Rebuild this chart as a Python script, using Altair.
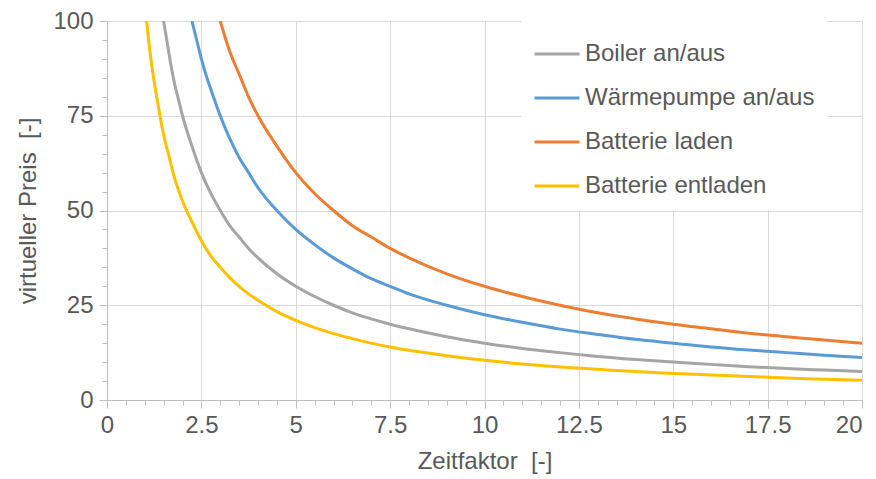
import altair as alt
import pandas as pd

# Series
boiler_x = [1.5, 1.6, 1.7, 1.8, 1.9, 2, 2.25, 2.5, 2.75, 3, 3.25, 3.5, 3.75, 4, 4.5, 5, 5.5, 6, 6.5, 7, 7.5, 8, 9, 10, 11, 12, 13, 14, 15, 16, 17, 18, 19, 20]
boiler_y = [100, 94, 88, 83, 79, 75, 67, 60, 54.5, 50, 46, 43, 40, 37.5, 33.3, 30, 27.3, 25, 23, 21.4, 20, 18.8, 16.7, 15, 13.6, 12.5, 11.5, 10.7, 10, 9.4, 8.8, 8.3, 7.9, 7.5]

wp_x = [2.25, 2.4, 2.5, 2.6, 2.75, 3, 3.25, 3.5, 3.75, 4, 4.5, 5, 5.5, 6, 6.5, 7, 7.5, 8, 9, 10, 11, 12, 13, 14, 15, 16, 17, 18, 19, 20]
wp_y = [100, 94, 90, 86.5, 82, 75, 69, 64, 60, 56, 50, 45, 41, 37.5, 34.6, 32, 30, 28, 25, 22.5, 20.5, 18.7, 17.3, 16, 15, 14, 13.2, 12.5, 11.8, 11.2]

laden_x = [3, 3.25, 3.5, 3.75, 4, 4.5, 5, 5.5, 6, 6.5, 7, 7.5, 8, 9, 10, 11, 12, 13, 14, 15, 16, 17, 18, 19, 20]
laden_y = [100, 92, 86, 80, 75, 67, 60, 54.5, 50, 46, 43, 40, 37.5, 33.3, 30, 27.3, 25, 23, 21.4, 20, 18.8, 17.6, 16.7, 15.8, 15]

entladen_x = [1.05, 1.15, 1.25, 1.35, 1.5, 1.65, 1.75, 2, 2.25, 2.5, 2.75, 3, 3.25, 3.5, 3.75, 4, 4.5, 5, 5.5, 6, 6.5, 7, 7.5, 8, 9, 10, 11, 12, 13, 14, 15, 16, 17, 18, 19, 20]
entladen_y = [100, 91, 84, 78, 70, 64, 60, 52.5, 47, 42, 38, 35, 32.3, 30, 28, 26.3, 23.3, 21, 19.1, 17.5, 16.2, 15, 14, 13.1, 11.7, 10.5, 9.5, 8.7, 8.1, 7.5, 7, 6.6, 6.2, 5.8, 5.5, 5.2]

series_names = ["Boiler an/aus", "Wärmepumpe an/aus", "Batterie laden", "Batterie entladen"]
series_colors = ["#a5a5a5", "#5b9bd5", "#ed7d31", "#ffc000"]

x_ticks = [0, 2.5, 5, 7.5, 10, 12.5, 15, 17.5, 20]
x_minor = [i * 0.5 for i in range(41)]
y_ticks = [0, 25, 50, 75, 100]
y_minor = [i * 5 for i in range(21)]

rows = []
for name, xs, ys in zip(series_names, [boiler_x, wp_x, laden_x, entladen_x],
                        [boiler_y, wp_y, laden_y, entladen_y]):
    for i, (a, b) in enumerate(zip(xs, ys)):
        rows.append({"Serie": name, "x": a, "y": b, "o": i})
df = pd.DataFrame(rows)

FONT = "Liberation Sans"
GREY = "#595959"
FS = 24

xscale = alt.Scale(domain=[0, 20], nice=False, zero=False)
yscale = alt.Scale(domain=[0, 100], nice=False)

minor = alt.Chart(df).mark_point(opacity=0).encode(
    x=alt.X("x:Q", scale=xscale, title=None,
            axis=alt.Axis(values=x_minor, labels=False, grid=False, domain=False, tickColor="#bfbfbf",
                          tickSize=5, orient="bottom", title=None)),
    y=alt.Y("y:Q", scale=yscale, title=None,
            axis=alt.Axis(values=y_minor, labels=False, grid=False, domain=False, tickColor="#bfbfbf",
                          tickSize=5, orient="left", title=None)),
)

lines = alt.Chart(df).mark_line(strokeWidth=3, interpolate="monotone", clip=True).encode(
    x=alt.X("x:Q", scale=xscale, title="Zeitfaktor\u00a0\u00a0[-]",
            axis=alt.Axis(values=x_ticks, labelExpr="'' + datum.value", orient="bottom", grid=True,
                          gridColor="#d9d9d9", domainColor="#bfbfbf", tickColor="#bfbfbf", tickSize=8,
                          labelPadding=5, labelFontSize=FS, labelColor=GREY, titleFontSize=FS,
                          titleColor=GREY, titleFontWeight="normal", titlePadding=12, labelFont=FONT,
                          titleFont=FONT, labelFlush=False,
                          labelAlign=alt.ExprRef("datum.value >= 20 ? 'right' : 'center'"))),
    y=alt.Y("y:Q", scale=yscale, title="virtueller Preis\u00a0\u00a0[-]",
            axis=alt.Axis(values=y_ticks, orient="left", grid=True, gridColor="#d9d9d9", domainColor="#bfbfbf",
                          tickColor="#bfbfbf", tickSize=8, labelPadding=6, labelFontSize=FS,
                          labelColor=GREY, titleFontSize=FS, titleColor=GREY, titleFontWeight="normal",
                          titlePadding=12, labelFont=FONT, titleFont=FONT, labelFlush=False)),
    color=alt.Color("Serie:N", sort=series_names,
                    scale=alt.Scale(domain=series_names, range=series_colors),
                    legend=alt.Legend(title=None, orient="none", legendX=414, legendY=-3,
                                      symbolType="stroke", symbolSize=2025, symbolStrokeWidth=3,
                                      labelFontSize=FS, labelColor=GREY, labelFont=FONT,
                                      fillColor="white", padding=12, rowPadding=8, labelOffset=4,
                                      labelLimit=400)),
    order="o:Q",
)

chart = alt.layer(minor, lines).resolve_axis(x="independent", y="independent").properties(
    width=755, height=379,
    autosize=alt.AutoSizeParams(type="none"),
    padding={"left": 99, "top": 13, "right": 6, "bottom": 80},
).configure_view(stroke=None)

chart.save("out.html", embed_options={"renderer": "svg", "actions": False})
